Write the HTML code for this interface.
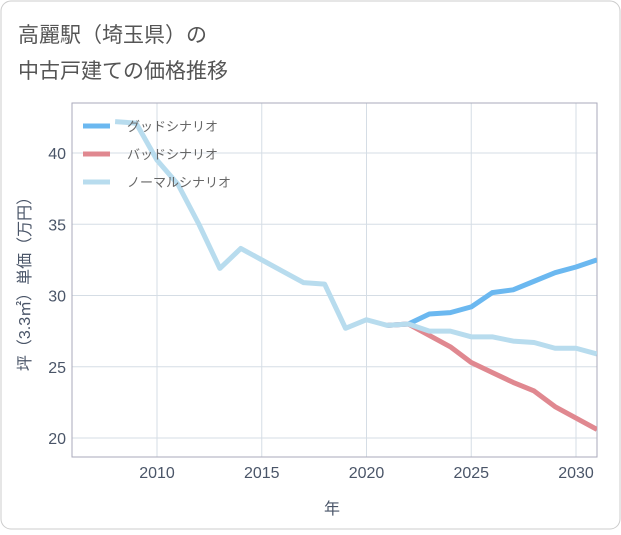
<!DOCTYPE html>
<html><head><meta charset="utf-8"><style>
body{margin:0;background:#fff;}
svg text{font-family:"Liberation Sans","Noto Sans CJK JP",sans-serif;}
</style></head><body>
<svg width="621" height="530" xmlns="http://www.w3.org/2000/svg">
<rect x="1" y="1" width="619" height="528" rx="10" fill="#fff" stroke="#ccc"/>
<text x="18" y="42" font-size="21" fill="#555">高麗駅（埼玉県）の</text>
<text x="18" y="78" font-size="21" fill="#555">中古戸建ての価格推移</text>
<g id="plot"></g>
<text x="332" y="514" font-size="16" fill="#4a5568" text-anchor="middle">年</text>
<text transform="translate(30,280) rotate(-90)" font-size="16" fill="#4a5568" text-anchor="middle">坪（3.3㎡）単価（万円）</text>
</svg>
<script>
const years=[2008,2009,2010,2011,2012,2013,2014,2015,2016,2017,2018,2019,2020,2021,2022,2023,2024,2025,2026,2027,2028,2029,2030,2031];
const normal=[42.2,42.1,39.5,37.8,35,31.9,33.3,32.5,31.7,30.9,30.8,27.7,28.3,27.9,28.0,27.5,27.5,27.1,27.1,26.8,26.7,26.3,26.3,25.9];
const fYears=[2021,2022,2023,2024,2025,2026,2027,2028,2029,2030,2031];
const good=[27.9,28.0,28.7,28.8,29.2,30.2,30.4,31.0,31.6,32.0,32.5];
const bad=[27.9,28.0,27.2,26.4,25.3,24.6,23.9,23.3,22.2,21.4,20.6];
const xTicks=[2010,2015,2020,2025,2030];
const yTicks=[20,25,30,35,40];
const L=72,R=597,T=103,B=457;
const x=v=>157+(v-2010)*20.95;
const y=v=>438-(v-20)*14.25;
const NS="http://www.w3.org/2000/svg";
const g=document.getElementById('plot');
function mk(t,a,p){const e=document.createElementNS(NS,t);for(const k in a)e.setAttribute(k,a[k]);(p||g).appendChild(e);return e;}
const clip=mk('clipPath',{id:'c'});mk('rect',{x:L,y:T,width:R-L,height:B-T},clip);
xTicks.forEach(v=>{const l=mk('line',{x1:x(v),x2:x(v),y1:T,y2:B,stroke:'#d5dde5'});


const t=mk('text',{x:x(v),y:478,'font-size':16,fill:'#4a5568','text-anchor':'middle'});t.textContent=v;

});
yTicks.forEach(v=>{const l=mk('line',{x1:L,x2:R,y1:y(v),y2:y(v),stroke:'#d5dde5'});


const t=mk('text',{x:66,y:y(v)+6,'font-size':16,fill:'#4a5568','text-anchor':'end'});t.textContent=v;

});
const fr=mk('rect',{x:L,y:T,width:R-L,height:B-T,fill:'none',stroke:'#aab'});


function line(xs,vs,c,n){const p=mk('polyline',{points:xs.map((v,i)=>x(v)+','+y(vs[i])).join(' '),fill:'none',stroke:c,'stroke-width':5,'stroke-linejoin':'round','clip-path':'url(#c)'});

}
line(fYears,good,'#6bb8f0','good-line');
line(fYears,bad,'#e08890','bad-line');
line(years,normal,'#b8dcee','normal-line');
const leg=[['グッドシナリオ','#6bb8f0'],['バッドシナリオ','#e08890'],['ノーマルシナリオ','#b8dcee']];
leg.forEach((d,i)=>{const yy=126+i*28;
const l=mk('line',{x1:83,x2:110,y1:yy,y2:yy,stroke:d[1],'stroke-width':5});


const t=mk('text',{x:127,y:yy+5,'font-size':13,fill:'#666'});t.textContent=d[0];

});
</script>
</body></html>
